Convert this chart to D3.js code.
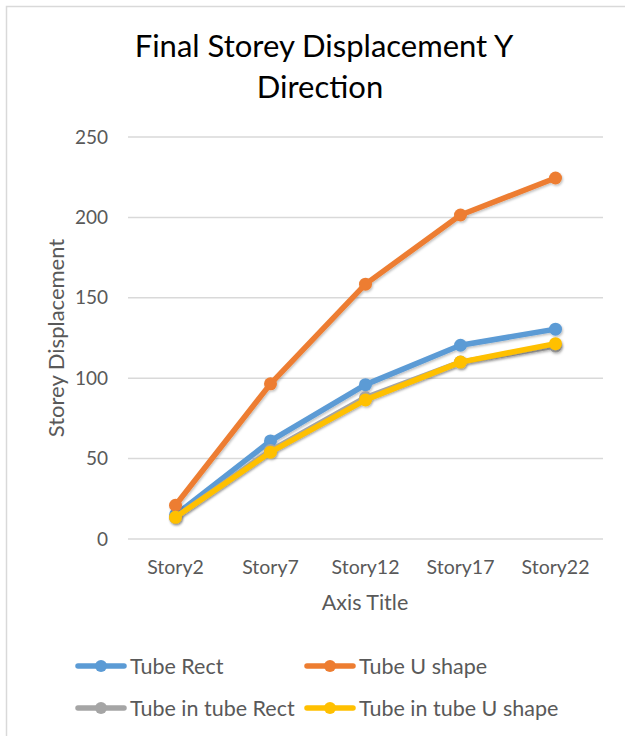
<!DOCTYPE html>
<html>
<head>
<meta charset="utf-8">
<script src="https://cdn.jsdelivr.net/npm/d3@7"></script>
<style>
  body { margin: 0; background: #fff; }
  svg { display: block; font-family: Lato, "Open Sans", sans-serif; }
</style>
</head>
<body>
<svg id="chart" width="625" height="736"></svg>
<script>
const stories = ["Story2", "Story7", "Story12", "Story17", "Story22"];
const tubeRect = [15, 61, 96, 120.5, 130.5];
const tubeUShape = [21, 96.5, 158.5, 201.5, 224.5];
const tubeInTubeRect = [13.5, 55, 88, 110, 120];
const tubeInTubeUShape = [13.5, 54, 86.5, 110, 121.5];
const yTicks = [0, 50, 100, 150, 200, 250];

const series = [
  { name: "Tube Rect", values: tubeRect, color: "#5B9BD5" },
  { name: "Tube U shape", values: tubeUShape, color: "#ED7D31" },
  { name: "Tube in tube Rect", values: tubeInTubeRect, color: "#A5A5A5" },
  { name: "Tube in tube U shape", values: tubeInTubeUShape, color: "#FFC000" }
];

const svg = d3.select("#chart");

// chart area border
svg.append("rect")
  .attr("x", 6.5).attr("y", 6.5)
  .attr("width", 640).attr("height", 760)
  .attr("fill", "none")
  .attr("stroke", "#d9d9d9")
  .attr("stroke-width", 1.5);

const plotLeft = 128, plotRight = 603, plotTop = 137, plotBottom = 539;

const x = d3.scaleBand().domain(stories).range([plotLeft, plotRight]);
const y = d3.scaleLinear().domain([0, 250]).range([plotBottom, plotTop]);

// title
svg.append("text")
  .attr("x", 324).attr("y", 57)
  .attr("text-anchor", "middle")
  .attr("font-size", 31)
  .attr("fill", "#000")
  .text("Final Storey Displacement Y");
svg.append("text")
  .attr("x", 320).attr("y", 98)
  .attr("text-anchor", "middle")
  .attr("font-size", 31)
  .attr("fill", "#000")
  .text("Direction");

// gridlines
svg.append("g")
  .selectAll("line")
  .data(yTicks)
  .join("line")
  .attr("x1", plotLeft).attr("x2", plotRight)
  .attr("y1", d => y(d)).attr("y2", d => y(d))
  .attr("stroke", "#d9d9d9")
  .attr("stroke-width", 1.5);

// y axis labels
const yAxis = d3.axisLeft(y).tickValues(yTicks).tickSize(0).tickPadding(20);
svg.append("g")
  .attr("transform", `translate(${plotLeft},0)`)
  .call(yAxis)
  .call(g => g.select(".domain").remove())
  .selectAll("text")
  .attr("font-family", "Lato, 'Open Sans', sans-serif")
  .attr("font-size", 19)
  .attr("fill", "#595959");

// x axis labels
const xAxis = d3.axisBottom(x).tickSize(0).tickPadding(21);
svg.append("g")
  .attr("transform", `translate(0,${plotBottom})`)
  .call(xAxis)
  .call(g => g.select(".domain").remove())
  .selectAll("text")
  .attr("font-family", "Lato, 'Open Sans', sans-serif")
  .attr("font-size", 19.5)
  .attr("fill", "#595959");

// axis titles
svg.append("text")
  .attr("x", 365).attr("y", 610)
  .attr("text-anchor", "middle")
  .attr("font-size", 21.5)
  .attr("fill", "#595959")
  .text("Axis Title");
svg.append("text")
  .attr("transform", "translate(64,338) rotate(-90)")
  .attr("text-anchor", "middle")
  .attr("font-size", 22)
  .attr("fill", "#595959")
  .text("Storey Displacement");

// shadow
const defs = svg.append("defs");
const f = defs.append("filter").attr("id", "shadow").attr("x", "-20%").attr("y", "-20%").attr("width", "140%").attr("height", "140%");
f.append("feDropShadow").attr("dx", 1).attr("dy", 1.5).attr("stdDeviation", 1).attr("flood-color", "#000").attr("flood-opacity", 0.25);

const cx = d => x(d) + x.bandwidth() / 2;
const line = d3.line()
  .x((d, i) => cx(stories[i]))
  .y(d => y(d));

series.forEach(s => {
  const g = svg.append("g").attr("filter", "url(#shadow)");
  g.append("path")
    .datum(s.values)
    .attr("d", line)
    .attr("fill", "none")
    .attr("stroke", s.color)
    .attr("stroke-width", 5.5)
    .attr("stroke-linejoin", "round")
    .attr("stroke-linecap", "round");
  g.selectAll("circle")
    .data(s.values)
    .join("circle")
    .attr("cx", (d, i) => cx(stories[i]))
    .attr("cy", d => y(d))
    .attr("r", 6.5)
    .attr("fill", s.color);
});

// legend
const legendPos = [
  { lx: 78, ly: 666 },
  { lx: 307, ly: 666 },
  { lx: 78, ly: 708 },
  { lx: 307, ly: 708 }
];
series.forEach((s, i) => {
  const p = legendPos[i];
  const g = svg.append("g").attr("transform", `translate(${p.lx},${p.ly})`);
  g.append("line")
    .attr("x1", 0).attr("x2", 46)
    .attr("stroke", s.color)
    .attr("stroke-width", 5.5)
    .attr("stroke-linecap", "round");
  g.append("circle").attr("cx", 23).attr("r", 6).attr("fill", s.color);
  g.append("text")
    .attr("x", 52).attr("dy", "0.35em")
    .attr("font-size", 21.5)
    .attr("fill", "#595959")
    .text(s.name);
});
</script>
</body>
</html>
